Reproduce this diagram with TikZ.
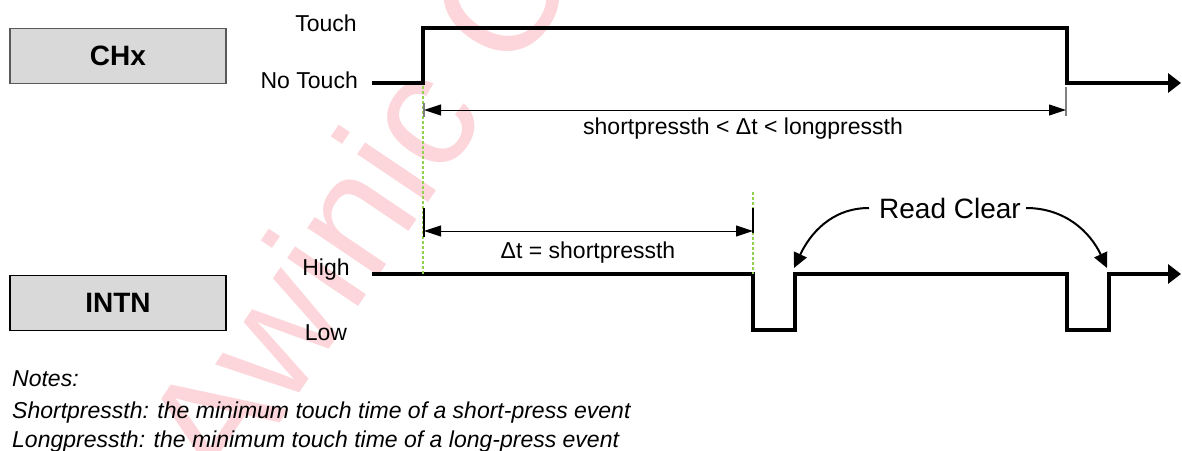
\documentclass[tikz,border=0pt]{standalone}
\usepackage{fontspec}
\setmainfont{Liberation Sans}
\usetikzlibrary{arrows.meta}
\definecolor{boxgray}{RGB}{217, 217, 217}
\definecolor{wmpink}{RGB}{252, 214, 218}
\definecolor{dashgreen}{RGB}{146, 208, 80}
\definecolor{tickgray}{RGB}{128, 128, 128}

\begin{document}
\begin{tikzpicture}[x=1pt, y=-1pt,
        lbl/.style={font=\fontsize{23}{27}\selectfont, inner sep=0pt},
        notetxt/.style={font=\fontsize{23}{27}\selectfont\itshape, inner sep=0pt, anchor=base west},
        sigbox/.style={fill=boxgray, line width=1.2pt, minimum width=216pt, minimum height=55pt, font=\fontsize{28}{32}\selectfont\bfseries},
        sig/.style={line width=3.2pt, line join=miter, -{Triangle[length=13pt, width=19pt]}},
        dimline/.style={line width=1pt, {Triangle[length=17pt, width=11pt]}-{Triangle[length=17pt, width=11pt]}},
        tickline/.style={line width=1.2pt},
        guide/.style={color=dashgreen, line width=1.3pt, dash pattern=on 3pt off 2pt},
        rcarrow/.style={line width=2pt, -{Triangle[length=15pt, width=14pt]}}]
    \useasboundingbox (0,0) rectangle (1182,450);
    \begin{scope}
        \clip (0,0) rectangle (1182,450);
        \node[rotate=56, anchor=base west, text=wmpink, inner sep=0pt, font=\fontsize{162}{162}\selectfont] (wm) at (228,500) {Awinic Confidential};
    \end{scope}

    \node[sigbox, draw=gray!70!black] (chx)  at (118, 56) {CHx};
    \node[sigbox, draw=black]         (intn) at (118,303) {INTN};

    \node[lbl, anchor=base]      (touch)   at (326, 31) {Touch};
    \node[lbl, anchor=base east] (notouch) at (358, 88) {No Touch};
    \node[lbl, anchor=base]      (high)    at (326,275) {High};
    \node[lbl, anchor=base]      (low)     at (326,340) {Low};

    \coordinate (c0) at ( 372, 83);  \coordinate (c1) at ( 423, 83);
    \coordinate (c2) at ( 423, 28);  \coordinate (c3) at (1067, 28);
    \coordinate (c4) at (1067, 83);  \coordinate (c5) at (1181, 83);
    \draw[sig] (c0) -- (c1) -- (c2) -- (c3) -- (c4) -- (c5);

    \coordinate (i0) at ( 372,274);  \coordinate (i1) at ( 753,274);
    \coordinate (i2) at ( 753,330);  \coordinate (i3) at ( 795,330);
    \coordinate (i4) at ( 795,274);  \coordinate (i5) at (1067,274);
    \coordinate (i6) at (1067,330);  \coordinate (i7) at (1109,330);
    \coordinate (i8) at (1109,274);  \coordinate (i9) at (1181,274);
    \draw[sig] (i0) -- (i1) -- (i2) -- (i3) -- (i4) -- (i5) -- (i6) -- (i7) -- (i8) -- (i9);

    \draw[guide] (423, 86) -- (i0 -| c1);
    \draw[guide] (753,192) -- (i1);

    \coordinate (la) at ( 424,110);  \coordinate (lb) at (1066,110);
    \coordinate (sa) at ( 424,231);  \coordinate (sb) at ( 753,231);
    \draw[tickline, tickgray] ( 424,103) -- ( 424,117);
    \draw[tickline, tickgray] (1066, 87) -- (1066,116);
    \draw[tickline]           ( 424,208) -- ( 424,237);
    \draw[tickline]           ( 753,208) -- ( 753,233);
    \draw[dimline] (la) -- (lb);
    \draw[dimline] (sa) -- (sb);
    \node[lbl, anchor=base] (dimlong)  at (743,134) {shortpressth < Δt < longpressth};
    \node[lbl, anchor=base] (dimshort) at (588,258) {Δt = shortpressth};

    \node[lbl, anchor=base, font=\fontsize{28}{32}\selectfont] (rc) at (950,218) {Read Clear};
    \coordinate (ra) at ( 794,268);
    \coordinate (rb) at (1107,268);
    \draw[rcarrow] ([xshift=-10pt]rc.west) to[out=180, in=65]  (ra);
    \draw[rcarrow] ([xshift=5pt]rc.east)   to[out=0,   in=115] (rb);

    \node[notetxt] (notes) at (12,386) {Notes:};
    \node[notetxt] (nshort) at (12,418) {Shortpressth: the minimum touch time of a short-press event};
    \node[notetxt] (nlong)  at (12,447) {Longpressth: the minimum touch time of a long-press event};
\end{tikzpicture}
\end{document}
